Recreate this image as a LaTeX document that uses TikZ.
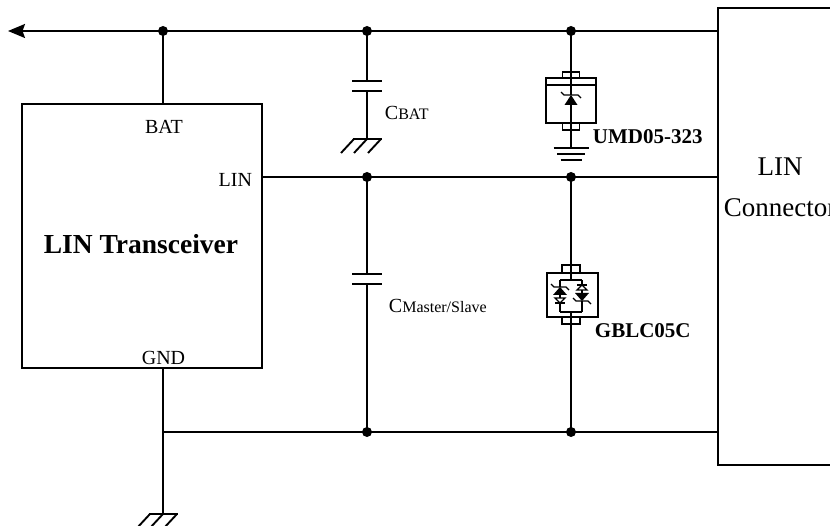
\documentclass[tikz,border=0pt]{standalone}
\usepackage{fontspec}
\setmainfont{Liberation Serif}
\usetikzlibrary{arrows.meta}
\begin{document}
\begin{tikzpicture}[x=1pt,y=-1pt,line width=1.9pt,
 dot/.style={circle,fill=black,inner sep=0pt,minimum size=10pt},
 boxn/.style={draw,rectangle,inner sep=0pt},
 lbl/.style={inner sep=0pt,font=\fontsize{20}{24}\selectfont},
 big/.style={inner sep=0pt,font=\fontsize{27}{32}\selectfont},
 bigb/.style={inner sep=0pt,font=\bfseries\fontsize{27.5}{32}\selectfont},
 partlbl/.style={inner sep=0pt,font=\bfseries\fontsize{21}{24}\selectfont},
 thin/.style={line width=1.3pt},
 gndhatch/.pic={\draw (-14,0) -- (15,0); \foreach \x in {-13,0,14} \draw (\x,0) -- ++(-13,14);},
 gndearth/.pic={\draw (-17.5,0) -- (17.5,0); \draw (-14,6) -- (14,6); \draw (-10.5,12) -- (10.5,12);}]
\useasboundingbox (0,0) rectangle (830,526);

% boxes
\node[boxn,minimum width=240pt,minimum height=264pt] (tr) at (142,236) {};
\node[boxn,minimum width=124pt,minimum height=457pt] (con) at (780,236.5) {};

% coordinates
\coordinate (tip) at (8,31);
\coordinate (j1) at (163,31);
\coordinate (j2) at (367,31);
\coordinate (j3) at (571,31);
\coordinate (j4) at (367,177);
\coordinate (j5) at (571,177);
\coordinate (b0) at (163,432);
\coordinate (b1) at (367,432);
\coordinate (b2) at (571,432);
\coordinate (g0) at (163,514);
\coordinate (g1) at (367,139);
\coordinate (c1a) at (367,81);
\coordinate (c1b) at (367,91);
\coordinate (c2a) at (367,274);
\coordinate (c2b) at (367,284);
\coordinate (u1) at (571,95);
\coordinate (u2) at (571,105);
\coordinate (ug) at (571,148);
\coordinate (v1) at (571,280);
\coordinate (v2) at (571,312);

% wires
\draw[-{Stealth[length=17pt,width=14pt,inset=2.5pt]}] (con.west |- j1) -- (tip);
\draw (j1) -- (j1 |- tr.north);
\draw (tr.east |- j4) -- (con.west |- j4);
\draw (b0) -- (con.west |- b0);
\draw (b0 |- tr.south) -- (g0);
\pic at (g0) {gndhatch};

% C_BAT
\draw (j2) -- (c1a);
\draw ([xshift=-15pt]c1a) -- ([xshift=15pt]c1a);
\draw ([xshift=-15pt]c1b) -- ([xshift=15pt]c1b);
\draw (c1b) -- (g1);
\pic at (g1) {gndhatch};

% C_Master/Slave
\draw (j4) -- (c2a);
\draw ([xshift=-15pt]c2a) -- ([xshift=15pt]c2a);
\draw ([xshift=-15pt]c2b) -- ([xshift=15pt]c2b);
\draw (c2b) -- (b1);

% UMD05-323
\draw (j3) -- (u1);
\draw (u2) -- (ug);
\pic at (ug) {gndearth};
\begin{scope}[shift={(571,100)}]
 \draw (-8.5,-28) rectangle (8.5,-22);
 \draw (-25,-22) rectangle (25,23);
 \draw (-25,-15) -- (25,-15);
 \draw (-8.5,23) rectangle (8.5,30);
 \fill (0,-5) -- (-6.5,5) -- (6.5,5) -- cycle;
 \draw[thin] (-10,-8) -- (-7,-5) -- (7,-5) -- (10,-2);
\end{scope}

% GBLC05C
\draw (j5) -- (v1);
\draw (v2) -- (b2);
\begin{scope}[shift={(571,295)}]
 \draw (-9,-30) rectangle (9,-22);
 \draw (-24,-22) rectangle (27,22);
 \draw (-9,22) rectangle (9,29);
 \draw[thin] (-11,-15) -- (11,-15);
 \draw[thin] (-11,17) -- (11,17);
 % left branch
 \draw[thin] (-11,-15) -- (-11,-8);
 \fill (-11,-8) -- (-18,0) -- (-4,0) -- cycle;
 \draw[thin] (-20,-11) -- (-17,-8) -- (-5,-8) -- (-2,-5);
 \draw[thin] (-11,0) -- (-11,3);
 \draw[thin] (-16,3) -- (-6,3) -- (-11,8) -- cycle;
 \draw[thin] (-16,8) -- (-6,8);
 \draw[thin] (-11,8) -- (-11,17);
 % right branch
 \draw[thin] (11,-15) -- (11,-10);
 \draw[thin] (6,-10) -- (16,-10);
 \draw[thin] (11,-10) -- (6,-5) -- (16,-5) -- cycle;
 \draw[thin] (11,-5) -- (11,-2);
 \fill (4,-2) -- (18,-2) -- (11,6) -- cycle;
 \draw[thin] (2,3) -- (5,6) -- (17,6) -- (20,9);
 \draw[thin] (11,6) -- (11,17);
\end{scope}

% dots
\foreach \p in {j1,j2,j3,j4,j5,b1,b2} \node[dot] (d\p) at (\p) {};

% labels
\node[lbl,anchor=base] (tbat) at (164,134) {BAT};
\node[lbl,anchor=base east] (tlin) at (253,187) {LIN};
\node[lbl,anchor=base] (tgnd) at (163.5,365) {GND};
\node[bigb,anchor=base] (ttr) at (141,254) {LIN Transceiver};
\node[big,anchor=base] (tcl) at (780,176) {LIN};
\node[big,anchor=base] (tcc) at (780,217) {Connector};
\node[lbl,anchor=base west] (tcb) at (384,120) {C{\fontsize{16}{18}\selectfont BAT}};
\node[lbl,anchor=base west] (tcm) at (388,313) {C{\fontsize{16}{18}\selectfont Master/Slave}};
\node[partlbl,anchor=base west] (tu) at (592,144) {UMD05-323};
\node[partlbl,anchor=base west] (tg) at (594,338) {GBLC05C};
\end{tikzpicture}
\end{document}
